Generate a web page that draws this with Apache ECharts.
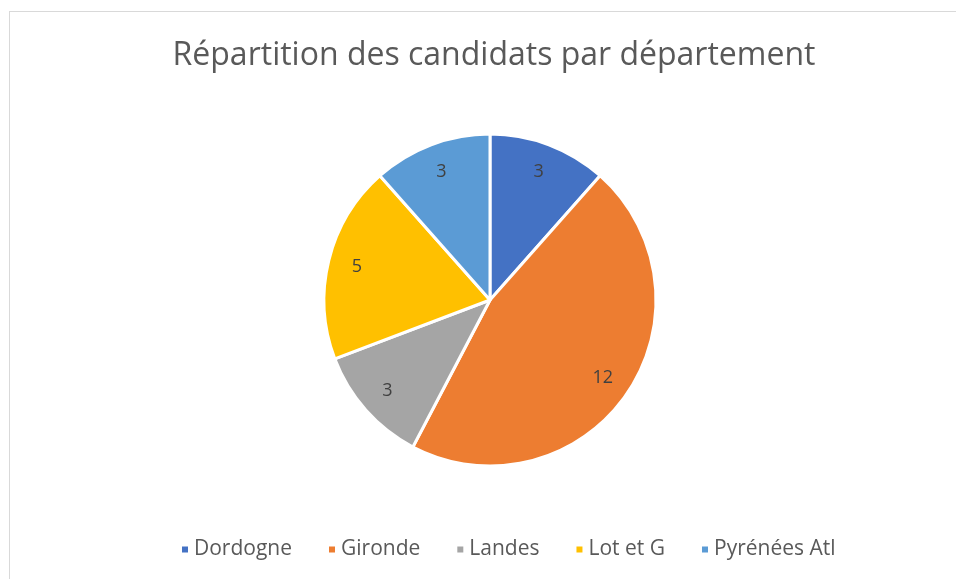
<!DOCTYPE html>
<html>
<head>
<meta charset="utf-8">
<script src="https://cdn.jsdelivr.net/npm/echarts@6/dist/echarts.min.js"></script>
<style>
  html, body { margin: 0; padding: 0; background: #fff; }
  #frame {
    position: absolute;
    left: 9px;
    top: 11px;
    width: 1000px;
    height: 600px;
    border: 1px solid #d9d9d9;
  }
  #chart { position: absolute; left: 0; top: 0; width: 956px; height: 579px; }
</style>
</head>
<body>
<div id="frame"></div>
<div id="chart"></div>
<script>
// données du graphique
const departements = ['Dordogne', 'Gironde', 'Landes', 'Lot et G', 'Pyrénées Atl']
const candidats = [3, 12, 3, 5, 3]
const couleurs = ['#4472C4', '#ED7D31', '#A5A5A5', '#FFC000', '#5B9BD5']

const chart = echarts.init(document.getElementById('chart'))
const pieData = departements.map((name, i) => ({ name: name, value: candidats[i] }))

const option = {
  backgroundColor: 'transparent',
  color: couleurs,
  animation: false,
  title: {
    text: 'Répartition des candidats par département',
    left: 489,
    textAlign: 'center',
    top: 35,
    textStyle: {
      color: '#595959',
      fontSize: 32,
      fontWeight: 'normal',
      fontFamily: 'Open Sans'
    }
  },
  legend: {
    bottom: 14,
    left: 175,
    icon: 'rect',
    itemWidth: 8,
    itemHeight: 8,
    itemGap: 35,
    textStyle: {
      color: '#595959',
      fontSize: 21,
      fontFamily: 'Open Sans'
    },
    data: departements
  },
  series: [
    {
      name: 'Candidats',
      type: 'pie',
      center: [490, 300],
      radius: [0, 166],
      startAngle: 90,
      clockwise: true,
      label: { show: false },
      labelLine: { show: false },
      itemStyle: { borderColor: '#fff', borderWidth: 3 },
      data: pieData
    },
    {
      // série invisible pour placer les étiquettes vers l'extérieur
      name: 'Etiquettes',
      type: 'pie',
      silent: true,
      center: [490, 300],
      radius: [102, 166],
      startAngle: 90,
      clockwise: true,
      legendHoverLink: false,
      itemStyle: { color: 'transparent' },
      label: {
        show: true,
        position: 'inside',
        formatter: '{c}',
        color: '#404040',
        fontSize: 18,
        fontFamily: 'Open Sans'
      },
      labelLine: { show: false },
      data: pieData
    }
  ]
}

chart.setOption(option)
</script>
</body>
</html>
